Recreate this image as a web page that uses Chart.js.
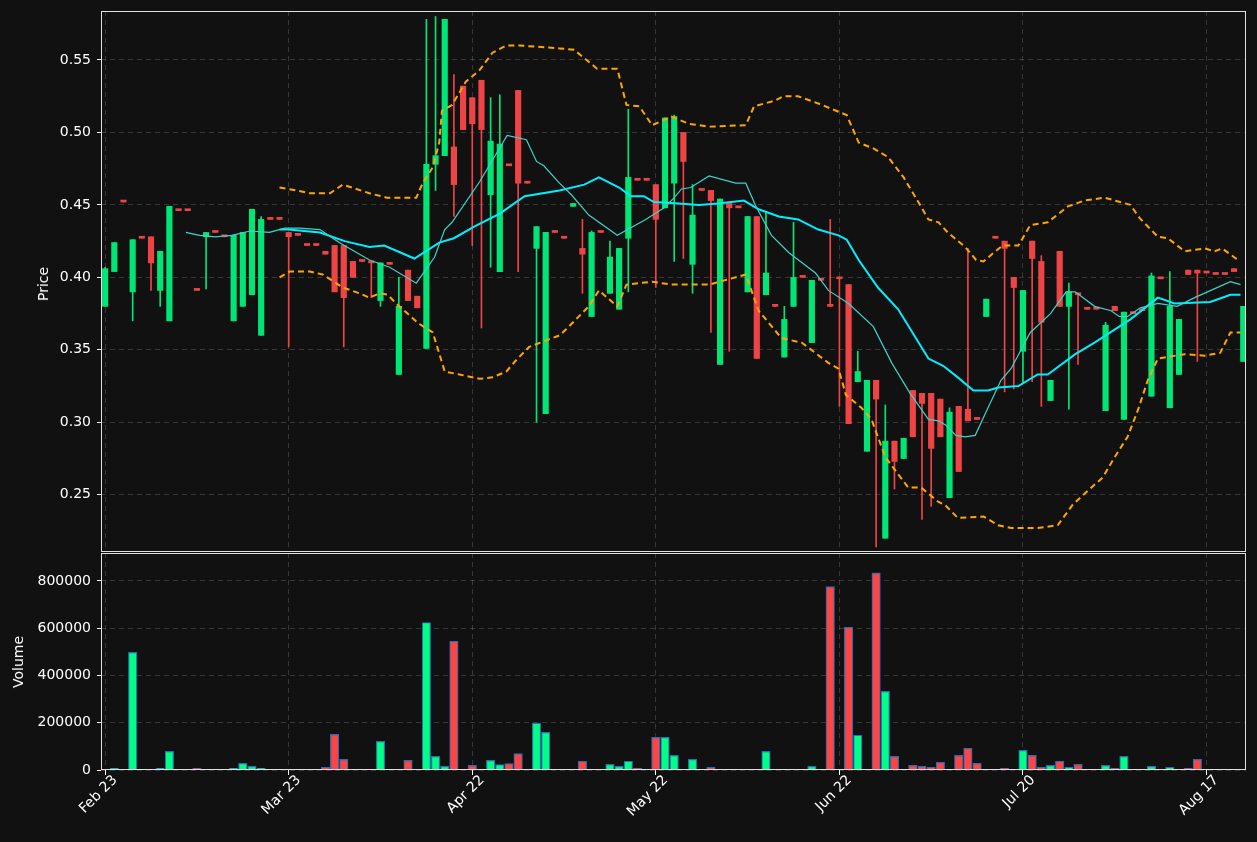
<!DOCTYPE html>
<html><head><meta charset="utf-8">
<script src="https://cdn.jsdelivr.net/npm/chart.js@4"></script>
<style>
html,body{margin:0;padding:0;background:#111111;overflow:hidden}
#wrap{position:relative;width:1257px;height:842px;background:#111111}
canvas{position:absolute;left:0}
.yt{position:absolute;color:#fff;font:14px "DejaVu Sans",sans-serif;transform:translate(-50%,-50%) rotate(-90deg);white-space:nowrap}
</style></head><body>
<div id="wrap">
<div style="position:absolute;left:0;top:0;width:1257px;height:553px"><canvas id="c1"></canvas></div>
<div style="position:absolute;left:0;top:553px;width:1257px;height:289px"><canvas id="c2"></canvas></div>
<div class="yt" style="left:43px;top:284px">Price</div>
<div class="yt" style="left:18px;top:662px">Volume</div>
</div>
<script>
const tickIdx=[0,20,40,60,80,100,120];
const tickLabels=["Feb 23","Mar 23","Apr 22","May 22","Jun 22","Jul 20","Aug 17"];
const open=[.380,.404,.452,.390,.427,.428,.391,.370,.446,.446,.391,.428,.431,.428,.370,.380,.388,.360,.440,.440,.431,.429,.422,.422,.418,.422,.422,.411,.411,.411,.384,.409,.333,.405,.387,.351,.478,.484,.490,.532,.524,.536,.457,.404,.477,.529,.465,.420,.306,.431,.427,.449,.420,.373,.431,.389,.378,.427,.467,.467,.464,.448,.465,.500,.409,.460,.460,.340,.451,.448,.390,.442,.388,.380,.345,.380,.400,.355,.398,.381,.400,.395,.328,.280,.329,.220,.287,.275,.322,.320,.320,.316,.248,.311,.309,.302,.373,.427,.425,.400,.349,.425,.411,.315,.418,.380,.389,.378,.378,.308,.380,.302,.376,.377,.318,.399,.310,.333,.405,.405,.403,.402,.402,.406,.342];
const high=[.407,.424,.452,.426,.427,.428,.418,.449,.446,.446,.391,.431,.431,.428,.429,.431,.447,.442,.440,.440,.431,.429,.422,.422,.418,.422,.422,.411,.411,.411,.410,.409,.400,.405,.387,.578,.580,.578,.540,.532,.524,.536,.524,.526,.477,.529,.465,.435,.431,.431,.427,.451,.440,.432,.431,.425,.420,.516,.467,.467,.464,.510,.512,.500,.464,.460,.460,.454,.451,.448,.442,.442,.445,.380,.380,.438,.400,.398,.398,.440,.400,.395,.349,.329,.329,.312,.287,.289,.322,.320,.320,.316,.310,.311,.420,.302,.385,.427,.425,.400,.391,.425,.415,.329,.418,.396,.389,.378,.378,.369,.380,.376,.376,.377,.403,.399,.404,.371,.405,.405,.403,.402,.402,.406,.380];
const low=[.380,.404,.452,.370,.427,.391,.380,.370,.446,.446,.391,.392,.431,.428,.370,.380,.388,.360,.440,.440,.352,.429,.422,.422,.416,.390,.352,.400,.411,.386,.380,.409,.333,.384,.379,.351,.460,.484,.442,.502,.422,.365,.407,.404,.477,.404,.465,.300,.306,.431,.427,.449,.389,.373,.431,.389,.378,.390,.467,.467,.393,.448,.411,.413,.389,.460,.362,.340,.349,.448,.390,.344,.388,.380,.345,.380,.400,.355,.398,.380,.311,.299,.328,.280,.214,.220,.254,.275,.290,.233,.242,.290,.248,.266,.301,.302,.373,.427,.321,.323,.327,.328,.311,.315,.380,.309,.340,.378,.378,.308,.377,.302,.375,.377,.318,.399,.310,.333,.402,.342,.403,.402,.402,.404,.342];
const close=[.406,.424,.452,.426,.427,.410,.418,.449,.446,.446,.391,.431,.431,.428,.429,.431,.447,.440,.440,.440,.428,.429,.422,.422,.416,.390,.386,.400,.411,.410,.410,.409,.380,.384,.379,.478,.484,.578,.464,.502,.506,.502,.494,.492,.477,.465,.465,.435,.431,.431,.427,.451,.416,.431,.431,.414,.420,.469,.467,.467,.440,.510,.511,.480,.443,.460,.453,.454,.448,.448,.442,.344,.403,.380,.371,.400,.400,.398,.398,.380,.399,.299,.335,.329,.316,.287,.273,.289,.290,.313,.282,.290,.307,.266,.301,.302,.385,.427,.420,.393,.391,.413,.369,.329,.380,.390,.388,.378,.378,.367,.377,.376,.375,.377,.401,.399,.380,.371,.402,.403,.403,.402,.402,.404,.380];
const volume=[2000,7000,0,498000,0,3000,7000,79000,0,0,7000,0,0,0,7000,28000,15000,7000,0,0,0,0,3000,0,11000,151000,45000,0,0,0,121000,0,3000,41000,0,624000,58000,15000,545000,0,20000,3000,41000,23000,27000,69000,0,198000,159000,0,0,0,37000,3000,3000,24000,15000,37000,7000,0,138000,138000,62000,0,45000,0,11000,0,0,0,0,0,79000,0,3000,3000,0,15000,0,776000,0,604000,147000,3000,834000,333000,58000,3000,20000,15000,11000,32000,3000,62000,92000,28000,0,3000,7000,3000,83000,62000,11000,20000,37000,11000,24000,0,0,20000,7000,58000,3000,0,15000,3000,11000,0,7000,45000,0,0,0,3000,0];
const sma20=[[19,.433],[20,.433],[23.4,.431],[26.1,.425],[28.8,.421],[30.4,.422],[33.7,.413],[36.4,.424],[38,.427],[40.2,.435],[43,.444],[45.7,.456],[49.5,.460],[52.2,.464],[53.8,.469],[56,.462],[57.3,.456],[58.7,.456],[59.8,.452],[62.5,.451],[64.7,.450],[66.8,.451],[69.6,.453],[71.2,.447],[73.4,.442],[75.5,.440],[77.7,.433],[79.9,.429],[80.8,.426],[82.1,.412],[84.2,.393],[86.4,.378],[89.7,.344],[91.3,.339],[92.9,.331],[94.6,.322],[96.2,.322],[97.3,.324],[99.5,.325],[101.6,.333],[102.7,.333],[105.7,.347],[107.8,.355],[111.7,.371],[114.7,.386],[116.5,.382],[120.4,.383],[122.6,.388],[123.7,.388]];
const sma10=[[8.8,.431],[10.3,.429],[12,.428],[13.8,.429],[15.8,.432],[17.9,.431],[19.6,.434],[21.2,.434],[23.4,.433],[25.5,.424],[28.8,.412],[31,.407],[33.9,.396],[35.9,.414],[37,.433],[37.8,.438],[40.8,.466],[43.8,.498],[45.9,.495],[47,.480],[47.8,.477],[49.5,.465],[50.8,.457],[52.7,.443],[55.8,.429],[58.9,.440],[60.9,.448],[62,.455],[62.8,.461],[63.8,.462],[65.8,.470],[68.7,.465],[69.8,.465],[70.9,.449],[72.6,.429],[74.5,.417],[77.4,.403],[78.8,.391],[81,.382],[83.7,.366],[85.7,.341],[87.7,.320],[89.7,.302],[90.8,.301],[91.6,.298],[92.7,.291],[93.7,.290],[94.8,.291],[95.9,.306],[97.6,.329],[98.7,.337],[100.8,.362],[103,.375],[104.7,.390],[105.7,.390],[107.8,.380],[109.6,.377],[110.5,.373],[111.4,.373],[112.8,.379],[114.7,.382],[116.8,.380],[118.7,.386],[122.6,.397],[123.7,.395]];
const bbUpper=[[19,.462],[20.9,.460],[22.3,.458],[24.5,.458],[25.9,.464],[28.8,.458],[30.7,.455],[33.9,.455],[34.6,.465],[35.7,.476],[36.4,.493],[36.7,.515],[37.8,.519],[39.3,.535],[40.8,.543],[42.2,.555],[43.7,.560],[45.1,.560],[49.5,.558],[51.1,.557],[53.6,.544],[55.8,.544],[56.8,.519],[58.2,.518],[59.6,.505],[61.7,.511],[63.6,.506],[65.8,.504],[69.8,.505],[70.7,.518],[73,.522],[73.9,.525],[75.5,.525],[77.7,.520],[80.8,.512],[82.1,.493],[83.7,.489],[85.3,.483],[87,.469],[88.6,.452],[89.7,.440],[90.8,.438],[91.8,.431],[93.7,.421],[94.9,.412],[95.7,.411],[97,.418],[97.8,.422],[99.5,.422],[100.8,.436],[102.7,.438],[104.9,.449],[106.7,.453],[108.9,.455],[111.7,.450],[112.7,.441],[114.7,.428],[115.8,.427],[117.6,.418],[119.8,.420],[120.9,.418],[121.7,.420],[123.2,.413],[123.7,.413]];
const bbLower=[[19,.400],[20.1,.404],[22.3,.404],[23.7,.402],[25.9,.393],[27.7,.389],[28.8,.386],[29.9,.389],[30.8,.388],[31.7,.382],[34.2,.368],[35.7,.362],[37,.335],[38.6,.333],[40.8,.330],[42.2,.331],[43.7,.335],[44.8,.343],[46.2,.352],[49.5,.360],[50.2,.364],[52.7,.380],[53.8,.391],[55.8,.380],[56.8,.395],[59.6,.397],[61.7,.395],[65.8,.395],[69.8,.402],[71.2,.377],[73.7,.358],[75.9,.355],[78.8,.341],[79.9,.337],[80.7,.319],[82.4,.310],[83.5,.302],[85,.276],[87.5,.255],[88.9,.255],[90.8,.245],[91.5,.243],[92.9,.234],[95.7,.235],[97.3,.229],[98.7,.227],[101.6,.227],[103.8,.229],[105.4,.243],[107.1,.253],[108.7,.262],[109.8,.274],[111.4,.290],[112.5,.308],[113.6,.329],[114.7,.344],[117.6,.347],[119.8,.346],[121.5,.348],[122.6,.362],[123.7,.362]];

const GREEN='#00e676',RED='#ef4446',VGREEN='#00ff85',VRED='#ff4444';
const up=open.map((o,i)=>close[i]>o);
const idx=open.map((_,i)=>i);
const F={family:'"DejaVu Sans", sans-serif',size:14};
const gridCfg={color:'rgba(255,255,255,0.16)',tickColor:'#ffffff',tickLength:4,tickBorderDash:[]};
const borderCfg={display:false,dash:[5,4]};
const frame={id:'frame',afterDraw(c){const a=c.chartArea,x=c.ctx;x.save();x.strokeStyle='#e0e0e0';x.lineWidth=1;x.strokeRect(Math.round(a.left)+0.5,Math.round(a.top)+0.5,Math.round(a.right-a.left)-1,Math.round(a.bottom-a.top)-1);x.restore();}};
const XMIN=-0.45,XMAX=124.3;
function setTicks(vals){return s=>{s.ticks=vals.map(v=>({value:v}));};}
function fitY(s){s.width=101;s.paddingTop=0;s.paddingBottom=0;}
const lineDs=(pts,color,w,dash)=>({type:'line',data:pts.map(p=>({x:p[0],y:p[1]})),borderColor:color,borderWidth:w,borderDash:dash||[],pointRadius:0,tension:0,fill:false,order:0});

new Chart(document.getElementById('c1'),{
 type:'bar',
 data:{datasets:[
  lineDs(bbUpper,'#ffa500',2,[6,4]),
  lineDs(bbLower,'#ffa500',2,[6,4]),
  lineDs(sma10,'#3fd3c8',1.2),
  lineDs(sma20,'#00eeff',2),
  {data:idx.map(i=>({x:i,y:[low[i],high[i]]})),backgroundColor:idx.map(i=>up[i]?GREEN:RED),barThickness:1,grouped:false,order:2},
  {data:idx.map(i=>({x:i,y:[open[i],close[i]]})),backgroundColor:idx.map(i=>up[i]?GREEN:RED),barThickness:5.5,minBarLength:2,grouped:false,order:1}
 ]},
 options:{responsive:true,maintainAspectRatio:false,animation:false,
  layout:{padding:{top:11,right:11,left:0,bottom:1}},
  plugins:{legend:{display:false},tooltip:{enabled:false}},
  scales:{
   x:{type:'linear',min:XMIN,max:XMAX,offset:false,afterBuildTicks:setTicks(tickIdx),afterFit:s=>{s.height=0;s.paddingLeft=0;s.paddingRight=0;},ticks:{display:false},grid:{...gridCfg,offset:false,drawTicks:false},border:borderCfg},
   y:{min:0.2105,max:0.5838,afterBuildTicks:setTicks([0.25,0.30,0.35,0.40,0.45,0.50,0.55]),afterFit:fitY,
      ticks:{color:'#fff',font:F,padding:6,callback:v=>v.toFixed(2)},grid:gridCfg,border:borderCfg}
  }},
 plugins:[frame]
});

new Chart(document.getElementById('c2'),{
 type:'bar',
 data:{datasets:[{data:idx.map(i=>({x:i,y:volume[i]})),backgroundColor:idx.map(i=>up[i]?VGREEN:VRED),borderColor:'#2a6db5',borderWidth:idx.map(i=>volume[i]>0?1.2:0),barThickness:8.5,grouped:false}]},
 options:{responsive:true,maintainAspectRatio:false,animation:false,
  layout:{padding:{top:0,right:11,left:0,bottom:0}},
  plugins:{legend:{display:false},tooltip:{enabled:false}},
  scales:{
   x:{type:'linear',min:XMIN,max:XMAX,offset:false,afterBuildTicks:setTicks(tickIdx),afterFit:s=>{s.height=72;s.paddingLeft=0;s.paddingRight=0;},
      ticks:{color:'#fff',font:F,maxRotation:45,minRotation:45,autoSkip:false,padding:-3,labelOffset:10,callback:v=>tickLabels[tickIdx.indexOf(v)]},
      grid:{...gridCfg,offset:false,tickLength:5},border:borderCfg},
   y:{min:0,max:918000,afterBuildTicks:setTicks([0,200000,400000,600000,800000]),afterFit:fitY,
      ticks:{color:'#fff',font:F,padding:6,callback:v=>String(v)},grid:gridCfg,border:borderCfg}
  }},
 plugins:[frame]
});
</script></body></html>
